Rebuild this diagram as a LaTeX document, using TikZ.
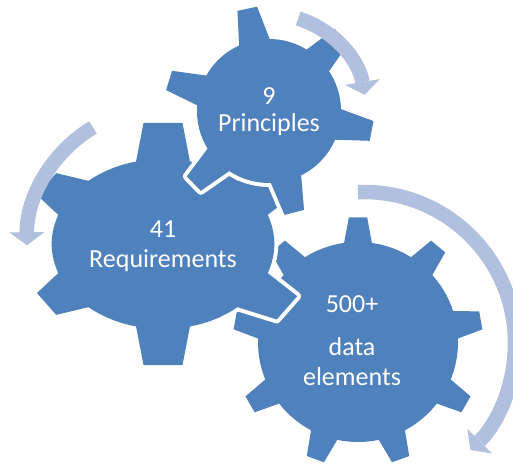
\documentclass[tikz,border=0pt]{standalone}
\usepackage{fontspec}
\setmainfont{Carlito}
\usepackage{xcolor}
\usepackage{tikz}
\usetikzlibrary{arrows.meta}

\definecolor{gearblue}{RGB}{79,129,189}
\definecolor{turnblue}{RGB}{176,192,222}

% body radius, half angle at base, half angle at tip, tooth angle/tip radius pairs
\newcommand{\gearpath}[4]{(0,0) circle[radius=#1]
  \foreach \ang/\tip in {#4} {(\ang-#2:#1) -- (\ang-#3:\tip) -- (\ang+#3:\tip) -- (\ang+#2:#1) -- cycle}}

\begin{document}
\begin{tikzpicture}[x=1pt,y=1pt]
\tikzstyle{gearedge}=[draw=white, line width=8pt, line join=round]
\tikzstyle{gearbody}=[fill=gearblue]
\tikzstyle{turn}=[draw=turnblue, line width=14.5pt, -{Triangle[width=35pt,length=13pt,line width=0pt]}]
\tikzstyle{lbl}=[text=white, align=center, font=\fontsize{26}{30}\selectfont, anchor=base]

\useasboundingbox (0,0) rectangle (513,466);

\coordinate (big) at (358,124);
\coordinate (mid) at (163,222);
\coordinate (small) at (269,355);
\coordinate (bigturn) at (364,123);

% big gear
\begin{scope}[shift={(big)}]
  \path[gearedge] \gearpath{100}{8}{4.2}{10/125,50/125,90/125,130/125,170/125,210/125,250/125,290/125,330/125};
  \path[gearbody] \gearpath{100}{8}{4.2}{10/125,50/125,90/125,130/125,170/125,210/125,250/125,290/125,330/125};
\end{scope}

% middle gear, a bit wider than high
\begin{scope}[shift={(mid)}, xscale=1.31]
  \path[gearedge] \gearpath{85}{14}{7}{34/115,90/122,146/108,214/108,270/122,326/115};
  \path[gearbody] \gearpath{85}{14}{7}{34/115,90/122,146/108,214/108,270/122,326/115};
\end{scope}

% small gear
\begin{scope}[shift={(small)}]
  \path[gearedge] \gearpath{72}{12.5}{5.5}{102/105,46/105,-11/105,-76/105,-136/105,163/105};
  \path[gearbody] \gearpath{72}{12.5}{5.5}{102/105,46/105,-11/105,-76/105,-136/105,163/105};
\end{scope}

% turning arrows
\draw[turn] ([shift={(72.5:97)}]small) arc[start angle=72.5, end angle=9.6, radius=97];
\draw[turn] ([shift={(121:136)}]mid) arc[start angle=121, end angle=180.5, radius=136];
\draw[turn] ([shift={(92.3:151)}]bigturn) arc[start angle=92.3, end angle=-45.2, radius=151];

\node[lbl] (principles) at (269,334) {9\\[-3pt]Principles};
\node[lbl] (requirements) at (163,199) {41\\[-1pt]Requirements};
\node[lbl] (elements) at (352,81) {500+\\[13pt]data\\elements};

\end{tikzpicture}
\end{document}
